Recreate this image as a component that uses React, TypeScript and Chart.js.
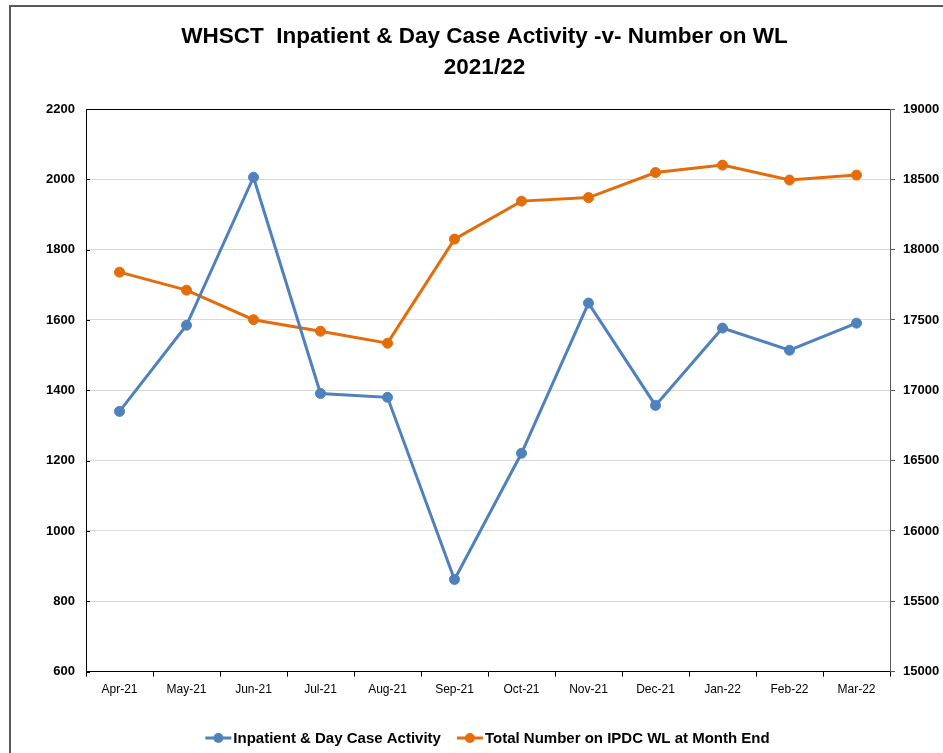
import React, { useEffect, useRef } from "react";
import { Chart, registerables } from "chart.js";

Chart.register(...registerables);

const months = ["Apr-21", "May-21", "Jun-21", "Jul-21", "Aug-21", "Sep-21", "Oct-21", "Nov-21", "Dec-21", "Jan-22", "Feb-22", "Mar-22"];
const activity = [1340, 1585, 2006, 1391, 1380, 862, 1221, 1648, 1357, 1577, 1514, 1591];
const waitingList = [17840, 17712, 17502, 17420, 17335, 18075, 18345, 18370, 18548, 18601, 18495, 18530];
const titleLines = ["WHSCT  Inpatient & Day Case Activity -v- Number on WL", "2021/22"];
const seriesNames = ["Inpatient & Day Case Activity", "Total Number on IPDC WL at Month End"];

const BLUE = "#4f81bd";
const ORANGE = "#e46c0a";
const SANS = "'Liberation Sans', Arial, sans-serif";

const framePlugin = {
  id: "plotFrame",
  afterDraw(chart: any) {
    const { ctx, chartArea } = chart;
    const { left, right, top } = chartArea;
    ctx.save();
    ctx.lineWidth = 1;
    ctx.strokeStyle = "#000";
    ctx.beginPath();
    ctx.moveTo(left, top + 0.5);
    ctx.lineTo(right, top + 0.5);
    const ys = chart.scales.y;
    ys.ticks.forEach((t: any) => {
      const py = Math.round(ys.getPixelForValue(t.value)) + 0.5;
      ctx.moveTo(left, py);
      ctx.lineTo(left + 4, py);
    });
    ctx.stroke();
    ctx.restore();
  },
};

const legendPlugin = {
  id: "customLegend",
  afterDraw(chart: any) {
    const { ctx } = chart;
    const ds = chart.data.datasets;
    ctx.save();
    ctx.font = `bold 15px ${SANS}`;
    ctx.textBaseline = "middle";
    ctx.textAlign = "left";
    const iconW = 26;
    const gapText = 2;
    const gapItem = 16;
    const widths = ds.map((d: any) => ctx.measureText(d.label).width);
    let total = 0;
    widths.forEach((w: number, i: number) => {
      total += iconW + gapText + w + (i < widths.length - 1 ? gapItem : 0);
    });
    const cy = 738;
    let x = 487.5 - total / 2;
    ds.forEach((d: any, i: number) => {
      ctx.strokeStyle = d.borderColor;
      ctx.fillStyle = d.borderColor;
      ctx.lineWidth = 3;
      ctx.beginPath();
      ctx.moveTo(x, cy);
      ctx.lineTo(x + iconW, cy);
      ctx.stroke();
      ctx.beginPath();
      ctx.arc(x + iconW / 2, cy, 5, 0, Math.PI * 2);
      ctx.fill();
      x += iconW + gapText;
      ctx.fillStyle = "#000";
      ctx.fillText(d.label, x, cy + 1);
      x += widths[i] + gapItem;
    });
    ctx.restore();
  },
};

export default function App() {
  const ref = useRef<HTMLCanvasElement | null>(null);
  useEffect(() => {
    if (!ref.current) return;
    const chart = new Chart(ref.current, {
      type: "line",
      data: {
        labels: months,
        datasets: [
          {
            label: seriesNames[0],
            data: activity,
            borderColor: BLUE,
            backgroundColor: BLUE,
            borderWidth: 3,
            pointRadius: 5,
            pointBorderWidth: 1,
            pointBackgroundColor: BLUE,
            pointBorderColor: BLUE,
            yAxisID: "y",
            tension: 0,
          },
          {
            label: seriesNames[1],
            data: waitingList,
            borderColor: ORANGE,
            backgroundColor: ORANGE,
            borderWidth: 3,
            pointRadius: 5,
            pointBorderWidth: 1,
            pointBackgroundColor: ORANGE,
            pointBorderColor: ORANGE,
            yAxisID: "y1",
            tension: 0,
          },
        ],
      },
      options: {
        animation: false,
        responsive: false,
        maintainAspectRatio: false,
        layout: { padding: { left: 26, right: 0, top: 0, bottom: 50 } },
        plugins: {
          title: {
            display: true,
            text: titleLines,
            color: "#000",
            font: { family: SANS, size: 22.5, weight: "bold", lineHeight: 1.4 },
            padding: { top: 21, bottom: 25 },
          },
          legend: { display: false },
          tooltip: { enabled: false },
        },
        scales: {
          x: {
            offset: true,
            grid: {
              offset: true,
              drawOnChartArea: false,
              drawTicks: true,
              tickLength: 5,
              color: "#000",
            },
            border: { color: "#000", width: 1 },
            ticks: {
              color: "#000",
              font: { family: SANS, size: 12 },
              padding: 6,
              maxRotation: 0,
              autoSkip: false,
            },
          },
          y: {
            position: "left",
            min: 600,
            max: 2200,
            afterFit: (s: any) => {
              s.width = 60;
            },
            grid: { color: "#d9d9d9", lineWidth: 1, drawTicks: false },
            border: { color: "#000", width: 1 },
            ticks: {
              stepSize: 200,
              color: "#000",
              font: { family: SANS, size: 13, weight: "bold" },
              padding: 11,
              callback: (v: any) => String(v),
            },
          },
          y1: {
            position: "right",
            min: 15000,
            max: 19000,
            afterFit: (s: any) => {
              s.width = 53;
            },
            grid: { drawOnChartArea: false, drawTicks: true, tickLength: 5, color: "#595959" },
            border: { color: "#595959", width: 1 },
            ticks: {
              stepSize: 500,
              color: "#000",
              font: { family: SANS, size: 13, weight: "bold" },
              padding: 8,
              callback: (v: any) => String(v),
            },
          },
        },
      },
      plugins: [framePlugin, legendPlugin],
    });
    return () => chart.destroy();
  }, []);

  return (
    <div style={{ position: "fixed", left: 0, top: 0, width: 943, height: 753, background: "#fff", overflow: "hidden" }}>
      <div
        style={{
          position: "absolute",
          left: 9,
          top: 5,
          right: 0,
          bottom: 0,
          borderTop: "2px solid #595959",
          borderLeft: "2px solid #595959",
        }}
      />
      <canvas ref={ref} width={943} height={753} style={{ position: "absolute", left: 0, top: 0 }} />
    </div>
  );
}
